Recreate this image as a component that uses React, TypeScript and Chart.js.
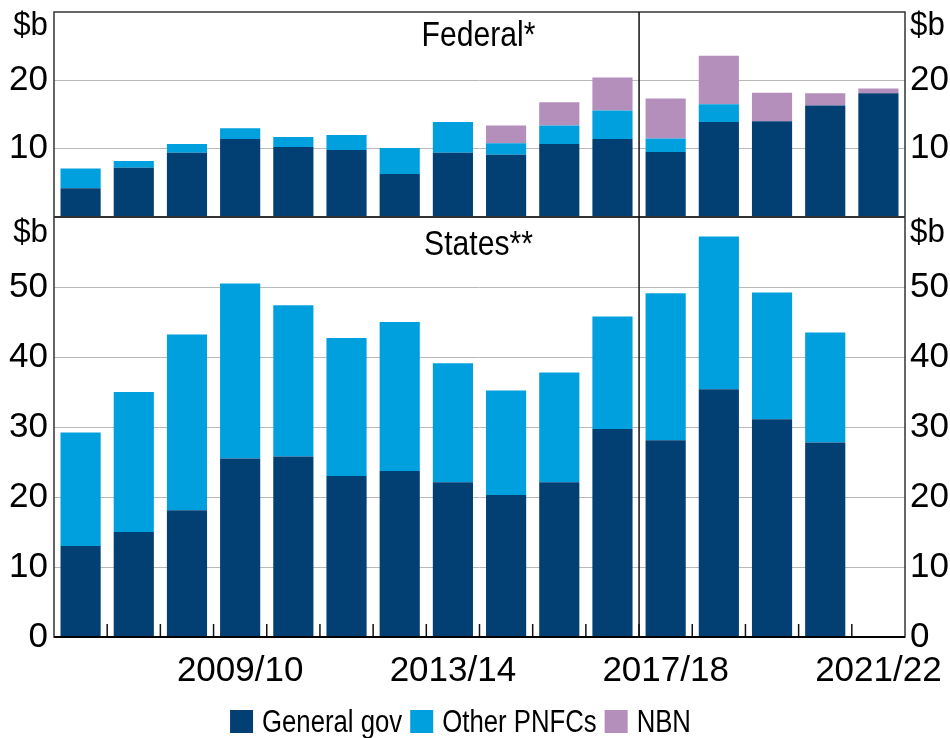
import React, { useEffect, useRef } from 'react';
import { Chart, registerables } from 'chart.js';

Chart.register(...registerables);

const categories = ['2006/07', '2007/08', '2008/09', '2009/10', '2010/11', '2011/12', '2012/13', '2013/14', '2014/15', '2015/16', '2016/17', '2017/18', '2018/19', '2019/20', '2020/21', '2021/22'];
const xTickLabels = ['2009/10', '2013/14', '2017/18', '2021/22'];
const forecastStart = '2017/18';

const federalGeneralGov = [4.2, 7.2, 9.4, 11.4, 10.25, 9.8, 6.3, 9.4, 9.1, 10.7, 11.4, 9.5, 13.9, 14.0, 16.3, 18.1];
const federalOtherPNFCs = [2.9, 1.0, 1.3, 1.6, 1.45, 2.2, 3.8, 4.5, 1.7, 2.7, 4.2, 2.0, 2.6, 0, 0, 0];
const federalNBN = [0, 0, 0, 0, 0, 0, 0, 0, 2.6, 3.4, 4.8, 5.85, 7.1, 4.2, 1.8, 0.7];

const statesGeneralGov = [13.0, 15.0, 18.1, 25.5, 25.8, 23.0, 23.7, 22.1, 20.3, 22.1, 29.7, 28.1, 35.4, 31.1, 27.8, null];
const statesOtherPNFCs = [16.2, 20.0, 25.1, 25.0, 21.6, 19.7, 21.3, 17.0, 14.9, 15.7, 16.1, 21.0, 21.8, 18.1, 15.7, null];

const federalTicks = { min: 0, max: 30, step: 10 };
const statesTicks = { min: 0, max: 60, step: 10 };

const seriesNames = ['General gov', 'Other PNFCs', 'NBN'];
const panelTitles = ['Federal*', 'States**'];
const unitLabel = '$b';

const COLORS = { gg: '#023F73', other: '#00A0DF', nbn: '#B48FBC' };
const seriesColors = [COLORS.gg, COLORS.other, COLORS.nbn];
const FONT = '"Liberation Sans", Arial, sans-serif';

function condensedText(ctx: any, text: string, x: number, y: number, size: number, align: string, sx: number) {
  ctx.save();
  ctx.font = `${size}px ${FONT}`;
  ctx.textAlign = align;
  ctx.textBaseline = 'alphabetic';
  ctx.translate(x, y);
  ctx.scale(sx, 1);
  ctx.fillText(text, 0, 0);
  ctx.restore();
}

const decorations = {
  id: 'decorations',
  afterDatasetsDraw(chart: any) {
    const { ctx, chartArea } = chart;
    const x = chart.scales.x;
    const yF = chart.scales.yF;
    const yS = chart.scales.yS;
    const { left, right, top, bottom } = chartArea;
    ctx.save();
    // x tick marks (inside, at category boundaries)
    ctx.strokeStyle = '#111';
    ctx.lineWidth = 1.5;
    for (let i = 0; i < categories.length - 1; i++) {
      const bx = (x.getPixelForValue(i) + x.getPixelForValue(i + 1)) / 2;
      ctx.beginPath();
      ctx.moveTo(bx, bottom);
      ctx.lineTo(bx, bottom - 13);
      ctx.stroke();
    }
    // frame
    ctx.strokeStyle = '#333';
    ctx.lineWidth = 1.5;
    ctx.strokeRect(left, top, right - left, bottom - top);
    ctx.beginPath();
    ctx.moveTo(left, yS.top);
    ctx.lineTo(right, yS.top);
    ctx.lineWidth = 2;
    ctx.stroke();
    ctx.strokeStyle = '#000';
    ctx.beginPath();
    ctx.moveTo(left, bottom);
    ctx.lineTo(right, bottom);
    ctx.stroke();
    // forecast divider
    const fi = categories.indexOf(forecastStart);
    const dx = (x.getPixelForValue(fi - 1) + x.getPixelForValue(fi)) / 2;
    ctx.lineWidth = 1.5;
    ctx.strokeStyle = '#111';
    ctx.beginPath();
    ctx.moveTo(dx, top);
    ctx.lineTo(dx, bottom);
    ctx.stroke();
    // panel titles and units
    ctx.fillStyle = '#000';
    const cx = (left + right) / 2 - 1;
    condensedText(ctx, panelTitles[0], cx, yF.top + 34, 35, 'center', 0.86);
    condensedText(ctx, panelTitles[1], cx, yS.top + 38, 35, 'center', 0.86);
    condensedText(ctx, unitLabel, left - 6, yF.top + 23, 34, 'right', 0.92);
    condensedText(ctx, unitLabel, left - 6, yS.top + 25, 34, 'right', 0.92);
    condensedText(ctx, unitLabel, right + 5, yF.top + 23, 34, 'left', 0.92);
    condensedText(ctx, unitLabel, right + 5, yS.top + 25, 34, 'left', 0.92);
    // legend
    const lsize = 31;
    const lsx = 0.83;
    const box = 23;
    const gapBoxText = 9;
    const gapItems = 8;
    ctx.font = `${lsize}px ${FONT}`;
    const widths = seriesNames.map((n) => ctx.measureText(n).width * lsx);
    const total = widths.reduce((a, w) => a + box + gapBoxText + w, 0) + gapItems * (seriesNames.length - 1);
    const legendCenter = (left + right) / 2 - 19;
    let lx = legendCenter - total / 2;
    const baseY = chart.height - 6;
    seriesNames.forEach((n, i) => {
      ctx.fillStyle = seriesColors[i];
      ctx.fillRect(lx, baseY - 22, box, box);
      lx += box + gapBoxText;
      ctx.fillStyle = '#000';
      condensedText(ctx, n, lx, baseY, lsize, 'left', lsx);
      lx += widths[i] + gapItems;
    });
    ctx.restore();
  },
};

function yAxis(position: string, stack: string, stackWeight: number, weight: number, t: any, hide: number[], grid: boolean, width: number) {
  return {
    type: 'linear',
    position,
    stack,
    stackWeight,
    weight,
    stacked: true,
    min: t.min,
    max: t.max,
    border: { display: false },
    grid: { display: grid, color: '#b9b9b9', lineWidth: 1, drawTicks: false },
    ticks: {
      stepSize: t.step,
      padding: position === 'left' ? 6 : 5,
      color: '#000',
      font: { size: 35, family: FONT },
      callback: (v: number) => (hide.includes(v) ? null : String(v)),
    },
    afterFit: (s: any) => {
      s.width = width;
      s.paddingTop = 0;
      s.paddingBottom = 0;
    },
  };
}

export default function App() {
  const ref = useRef<HTMLCanvasElement>(null);
  useEffect(() => {
    if (!ref.current) return;
    const chart = new Chart(ref.current, {
      type: 'bar',
      data: {
        labels: categories,
        datasets: [
          { label: seriesNames[0], data: federalGeneralGov, backgroundColor: COLORS.gg, yAxisID: 'yF', stack: 'all' },
          { label: seriesNames[1], data: federalOtherPNFCs, backgroundColor: COLORS.other, yAxisID: 'yF', stack: 'all' },
          { label: seriesNames[2], data: federalNBN, backgroundColor: COLORS.nbn, yAxisID: 'yF', stack: 'all' },
          { label: seriesNames[0] + ' (States)', data: statesGeneralGov, backgroundColor: COLORS.gg, yAxisID: 'yS', stack: 'all' },
          { label: seriesNames[1] + ' (States)', data: statesOtherPNFCs, backgroundColor: COLORS.other, yAxisID: 'yS', stack: 'all' },
        ] as any,
      },
      options: {
        animation: false,
        responsive: false,
        maintainAspectRatio: false,
        datasets: { bar: { barPercentage: 0.755, categoryPercentage: 1 } },
        layout: { padding: { top: 12, left: 0, right: 0, bottom: 0 } },
        scales: {
          x: {
            type: 'category',
            stacked: true,
            grid: { display: false },
            border: { display: false },
            ticks: {
              autoSkip: false,
              maxRotation: 0,
              padding: 5,
              color: '#000',
              font: { size: 35, family: FONT },
              callback: (_v: any, i: number) => (xTickLabels.includes(categories[i]) ? categories[i] : ''),
            },
            afterFit: (s: any) => {
              s.height = 101;
              s.paddingLeft = 0;
              s.paddingRight = 0;
            },
          },
          yS: yAxis('left', 'L', 420, 0, statesTicks, [statesTicks.max], true, 54),
          yF: yAxis('left', 'L', 205, 1, federalTicks, [federalTicks.min, federalTicks.max], true, 54),
          yFR: yAxis('right', 'R', 205, 0, federalTicks, [federalTicks.min, federalTicks.max], false, 45),
          ySR: yAxis('right', 'R', 420, 1, statesTicks, [statesTicks.max], false, 45),
        } as any,
        plugins: {
          legend: { display: false },
          tooltip: { enabled: false },
        },
      },
      plugins: [decorations],
    });
    return () => chart.destroy();
  }, []);
  return (
    <div style={{ position: 'absolute', left: 0, top: 0, width: 950, height: 738, background: '#fff' }}>
      <canvas ref={ref} width={950} height={738} style={{ display: 'block', width: 950, height: 738 }} />
    </div>
  );
}
